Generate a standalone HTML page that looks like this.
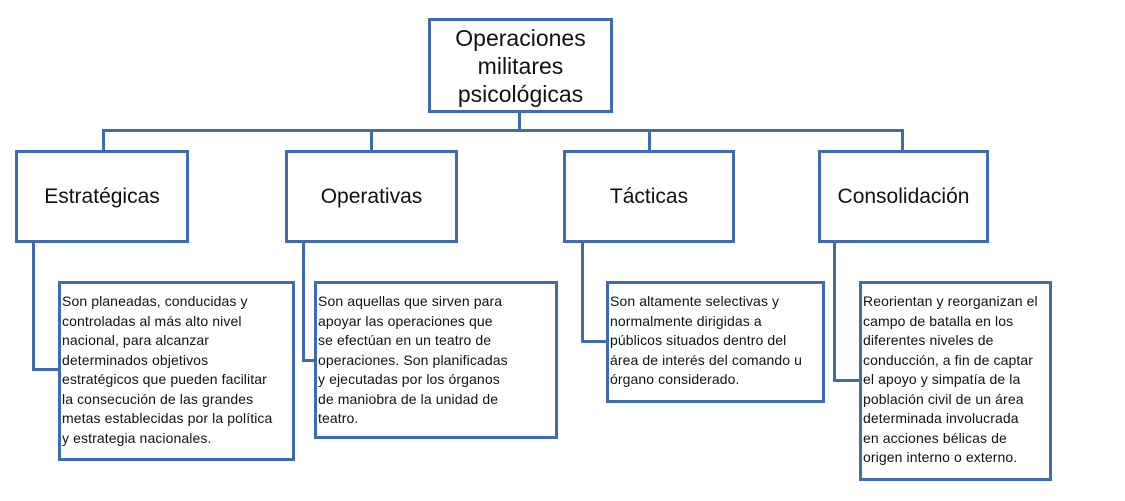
<!DOCTYPE html>
<html><head><meta charset="utf-8"><style>
body{margin:0;width:1125px;height:501px;background:#fff;position:relative;overflow:hidden;font-family:"Liberation Sans",sans-serif;color:#111}
.b{position:absolute;border:3px solid #3f6cae;box-sizing:border-box;background:#fff}
.t{display:flex;align-items:center;justify-content:center;font-size:21px;text-align:center}
.d{font-size:14px;letter-spacing:0.1px;line-height:19.5px;white-space:pre;padding:8px 0 0 1px}
.l{position:absolute;background:#3f6cae}
</style></head><body>
<div class="l" style="left:102px;top:129px;width:802px;height:3px"></div>
<div class="l" style="left:518px;top:110px;width:3px;height:21px"></div>
<div class="l" style="left:102px;top:129px;width:3px;height:22px"></div>
<div class="l" style="left:370px;top:129px;width:3px;height:22px"></div>
<div class="l" style="left:648px;top:129px;width:3px;height:22px"></div>
<div class="l" style="left:901px;top:129px;width:3px;height:22px"></div>
<div class="l" style="left:32px;top:240px;width:3px;height:130px"></div>
<div class="l" style="left:32px;top:368px;width:28px;height:3px"></div>
<div class="l" style="left:302px;top:240px;width:3px;height:121px"></div>
<div class="l" style="left:302px;top:359px;width:14px;height:3px"></div>
<div class="l" style="left:581px;top:240px;width:3px;height:102px"></div>
<div class="l" style="left:581px;top:340px;width:27px;height:3px"></div>
<div class="l" style="left:833px;top:240px;width:3px;height:141px"></div>
<div class="l" style="left:833px;top:379px;width:28px;height:3px"></div>
<div class="b t" style="left:428px;top:18px;width:185px;height:95px;line-height:28px;font-size:23px">Operaciones<br>militares<br>psicológicas</div>
<div class="b t" style="left:15px;top:150px;width:174px;height:93px">Estratégicas</div>
<div class="b t" style="left:285px;top:150px;width:173px;height:93px">Operativas</div>
<div class="b t" style="left:563px;top:150px;width:172px;height:93px">Tácticas</div>
<div class="b t" style="left:818px;top:150px;width:171px;height:93px">Consolidación</div>
<div class="b d" style="left:58px;top:281px;width:237px;height:180px;overflow:hidden">Son planeadas, conducidas y
controladas al más alto nivel
nacional, para alcanzar
determinados objetivos
estratégicos que pueden facilitar
la consecución de las grandes
metas establecidas por la política
y estrategia nacionales.</div>
<div class="b d" style="left:314px;top:281px;width:244px;height:158px;overflow:hidden">Son aquellas que sirven para
apoyar las operaciones que
se efectúan en un teatro de
operaciones. Son planificadas
y ejecutadas por los órganos
de maniobra de la unidad de
teatro.</div>
<div class="b d" style="left:606px;top:281px;width:219px;height:122px;overflow:hidden">Son altamente selectivas y
normalmente dirigidas a
públicos situados dentro del
área de interés del comando u
órgano considerado.</div>
<div class="b d" style="left:859px;top:281px;width:193px;height:200px;overflow:hidden">Reorientan y reorganizan el
campo de batalla en los
diferentes niveles de
conducción, a fin de captar
el apoyo y simpatía de la
población civil de un área
determinada involucrada
en acciones bélicas de
origen interno o externo.</div>
</body></html>
